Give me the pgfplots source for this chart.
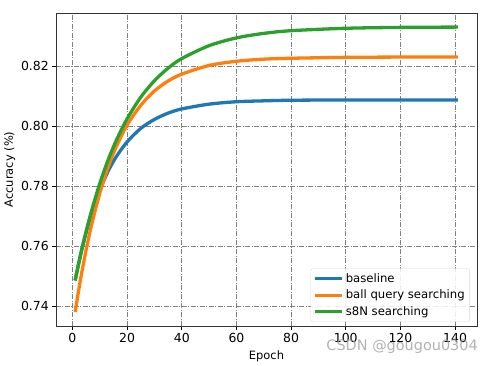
\documentclass[border=0pt]{standalone}
\usepackage{pgfplots}
\pgfplotsset{compat=1.18}
\usepackage{fontspec}
\setmainfont{DejaVu Sans}
\definecolor{tabblue}{HTML}{1F77B4}
\definecolor{taborange}{HTML}{FF7F0E}
\definecolor{tabgreen}{HTML}{2CA02C}
\begin{document}
\begin{tikzpicture}
\useasboundingbox (-56bp,-40bp) rectangle (437bp,326bp);
\begin{axis}[
  at={(0,0)}, anchor=south west,
  width=421bp, height=313bp, scale only axis,
  xmin=-6, xmax=148, ymin=0.7333, ymax=0.8377,
  xtick={0,20,...,140},
  ytick={0.74,0.76,0.78,0.80,0.82},
  yticklabel style={/pgf/number format/fixed,/pgf/number format/precision=2,/pgf/number format/fixed zerofill},
  scaled y ticks=false,
  /pgf/number format/assume math mode=true,
  tick label style={font=\fontsize{12.5}{14}\selectfont},
  label style={font=\fontsize{11.5}{13}\selectfont},
  xlabel={Epoch}, ylabel={Accuracy (\%)},
  xlabel style={yshift=-1bp},
  ylabel style={yshift=-1bp},
  tick align=outside, tick pos=left,
  major tick length=3.7bp,
  every tick/.style={black, line width=0.6pt},
  axis line style={line width=0.7pt, black!80},
  grid=major,
  major grid style={gray, line width=0.6pt, dash pattern=on 5bp off 1.5bp on 1bp off 1.5bp},
  legend style={at={(0.983,0.013)}, anchor=south east, font=\fontsize{11.7}{13}\selectfont, draw=black!15, rounded corners=2bp, fill=white, fill opacity=0.85, text opacity=1, inner sep=3bp, row sep=2bp},
  legend cell align=left,
  legend image code/.code={\draw[#1, line width=3.2bp] (0cm,0cm) -- (0.95cm,0cm);},
]
\addplot[tabblue, line width=3.3bp, smooth] coordinates {
(1,0.7485) (3,0.7571) (5,0.7644) (7,0.7708) (10,0.7786) (13,0.7848) (16,0.7897) (20,0.7947) (25,0.7992) (30,0.8022) (35,0.8043) (40,0.8057) (50,0.8073) (60,0.8081) (70,0.8084) (80,0.8086) (100,0.8087) (120,0.8087) (141,0.8087)};
\addlegendentry{baseline}
\addplot[taborange, line width=3.3bp, smooth] coordinates {
(1,0.7380) (3,0.7490) (5,0.7586) (7,0.7670) (10,0.7775) (13,0.7861) (16,0.7930) (20,0.8003) (25,0.8069) (30,0.8117) (35,0.8150) (40,0.8173) (50,0.8202) (60,0.8216) (70,0.8223) (80,0.8226) (100,0.8229) (120,0.8230) (141,0.8230)};
\addlegendentry{ball query searching}
\addplot[tabgreen, line width=3.3bp, smooth] coordinates {
(1,0.7485) (3,0.7571) (5,0.7648) (7,0.7717) (10,0.7808) (13,0.7885) (16,0.7951) (20,0.8024) (25,0.8096) (30,0.8151) (35,0.8193) (40,0.8225) (50,0.8268) (60,0.8294) (70,0.8309) (80,0.8318) (100,0.8326) (120,0.8329) (141,0.8330)};
\addlegendentry{s8N searching}
\end{axis}
\node[anchor=east, text=gray!75, opacity=0.8, font=\fontsize{14.5}{16}\selectfont, inner sep=0pt] at (422bp,-21bp) {CSDN @gougou0304};
\end{tikzpicture}
\end{document}
